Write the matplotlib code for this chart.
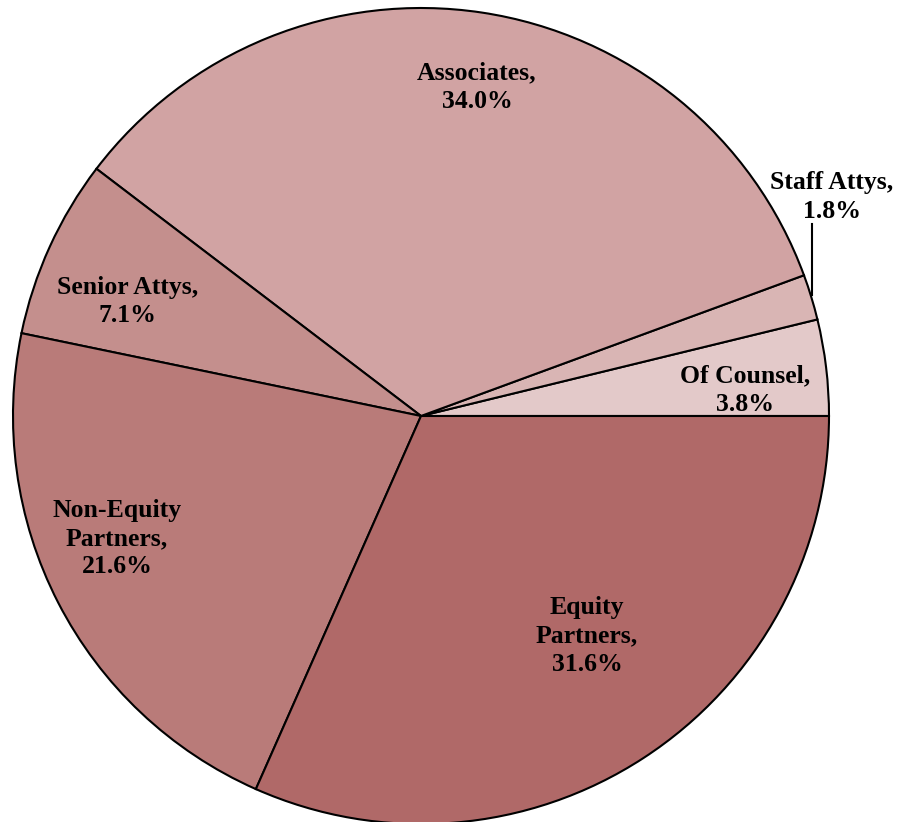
import matplotlib
matplotlib.use("Agg")
import matplotlib.pyplot as plt

labels = ["Of Counsel", "Staff Attys", "Associates", "Senior Attys",
          "Non-Equity\nPartners", "Equity\nPartners"]
shares = [3.8, 1.8, 34.0, 7.1, 21.6, 31.6]
colors = ["#E3C9C9", "#D9B5B4", "#D1A3A3", "#C48F8D", "#B97B79", "#B06968"]

# label positions in units of the pie radius, relative to the centre
label_pos = [(0.794, 0.064), (1.007, 0.537), (0.137, 0.806),
             (-0.72, 0.28), (-0.745, -0.30), (0.407, -0.539)]

W, H = 902, 822
fig = plt.figure(figsize=(W / 100, H / 100), dpi=100)
ax = fig.add_axes([0, 0, 1, 1])

cx, cy, r = 421, H - 416, 408
ax.pie(shares, colors=colors, startangle=0, counterclock=True,
       center=(cx, cy), radius=r, frame=True,
       wedgeprops=dict(edgecolor="black", linewidth=1.5))
ax.set_xlim(0, W)
ax.set_ylim(0, H)
ax.set_aspect("equal")
ax.axis("off")

for lab, val, (px, py) in zip(labels, shares, label_pos):
    ax.text(cx + px * r, cy + py * r, f"{lab},\n{val:.1f}%",
            ha="center", va="center", fontsize=18.5, fontweight="bold",
            family="Liberation Serif", linespacing=1.3)

# leader line for the thin Staff Attys slice
ax.plot([cx + 0.958 * r, cx + 0.958 * r], [cy + 0.297 * r, cy + 0.470 * r],
        color="black", lw=1.5)

fig.savefig("out.png", dpi=100)
